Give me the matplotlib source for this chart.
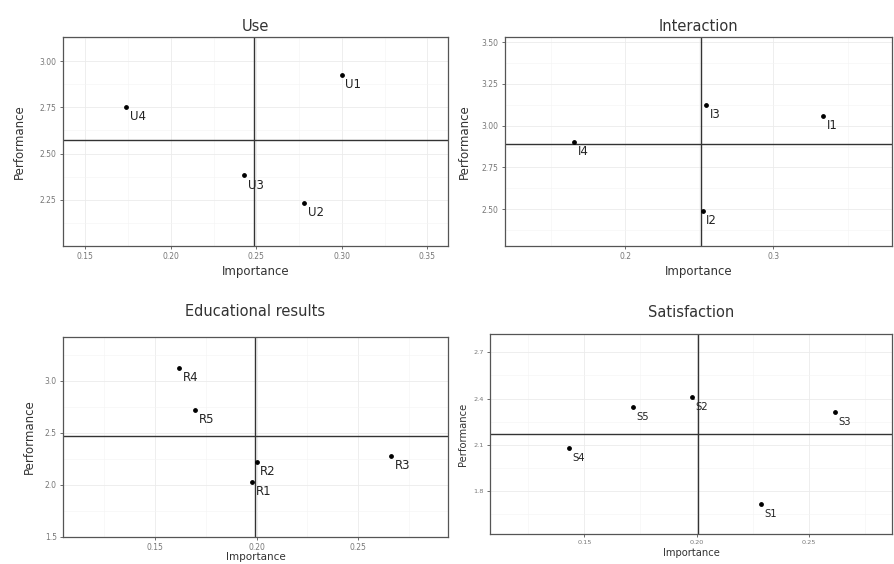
import matplotlib
matplotlib.use("Agg")
import matplotlib.pyplot as plt
import numpy as np

# ---- data ----
use_labels = ["U1", "U4", "U3", "U2"]
use_importance = [0.300, 0.174, 0.243, 0.278]
use_performance = [2.924, 2.752, 2.382, 2.232]

int_labels = ["I3", "I1", "I4", "I2"]
int_importance = [0.2545, 0.3336, 0.1655, 0.2522]
int_performance = [3.122, 3.059, 2.902, 2.488]

edu_labels = ["R4", "R5", "R2", "R1", "R3"]
edu_importance = [0.162, 0.170, 0.200, 0.198, 0.266]
edu_performance = [3.12, 2.72, 2.22, 2.03, 2.28]

sat_labels = ["S4", "S5", "S2", "S1", "S3"]
sat_importance = [0.143, 0.1716, 0.198, 0.2286, 0.2615]
sat_performance = [2.078, 2.346, 2.407, 1.713, 2.313]

W, H = 895, 564
fig = plt.figure(figsize=(W / 100, H / 100), dpi=100)
fig.patch.set_facecolor("white")


def box(l, r, t, b):
    return [l / W, 1 - b / H, (r - l) / W, (b - t) / H]


panels = [
    dict(title="Use", lab=use_labels, x=use_importance, y=use_performance,
         rect=box(63, 448, 37, 246), xlim=(0.137, 0.362), ylim=(2.00, 3.13),
         xt=[0.15, 0.20, 0.25, 0.30, 0.35], xf="%.2f",
         yt=[2.25, 2.50, 2.75, 3.00], yf="%.2f", fs=1.0, tfs=10.5,
         tpad=4, ylpad=10, xlpad=3, xlfs=8.5),
    dict(title="Interaction", lab=int_labels, x=int_importance, y=int_performance,
         rect=box(505, 892, 37, 246), xlim=(0.119, 0.380), ylim=(2.28, 3.53),
         xt=[0.2, 0.3], xf="%.1f",
         yt=[2.50, 2.75, 3.00, 3.25, 3.50], yf="%.2f", fs=1.0, tfs=10.5,
         tpad=4, ylpad=8, xlpad=3, xlfs=8.5),
    dict(title="Educational results", lab=edu_labels, x=edu_importance, y=edu_performance,
         rect=box(63, 448, 337, 537), xlim=(0.105, 0.294), ylim=(1.5, 3.42),
         xt=[0.15, 0.20, 0.25], xf="%.2f",
         yt=[1.5, 2.0, 2.5, 3.0], yf="%.1f", fs=1.0, tfs=10.5,
         tpad=15, ylpad=6, xlpad=0, xlfs=7.5),
    dict(title="Satisfaction", lab=sat_labels, x=sat_importance, y=sat_performance,
         rect=box(490, 892, 334, 534), xlim=(0.108, 0.287), ylim=(1.518, 2.82),
         xt=[0.15, 0.20, 0.25], xf="%.2f",
         yt=[1.8, 2.1, 2.4, 2.7], yf="%.1f", fs=0.85, tfs=10.5,
         tpad=12, ylpad=4, xlpad=2, xlfs=7.2),
]

for p in panels:
    ax = fig.add_axes(p["rect"])
    s = p["fs"]
    xt = p["xt"]; yt = p["yt"]
    ax.set_xticks(xt)
    ax.set_xticklabels([p["xf"] % v for v in xt])
    ax.set_yticks(yt)
    ax.set_yticklabels([p["yf"] % v for v in yt])
    dx = xt[1] - xt[0]; dy = yt[1] - yt[0]
    ax.set_xticks(np.arange(xt[0] - dx / 2, p["xlim"][1], dx), minor=True)
    ax.set_yticks(np.arange(yt[0] - dy / 2, p["ylim"][1], dy), minor=True)
    ax.set_xlim(*p["xlim"])
    ax.set_ylim(*p["ylim"])
    ax.grid(True, which="major", color="#EBEBEB", lw=0.6)
    ax.grid(True, which="minor", color="#F4F4F4", lw=0.4)
    ax.tick_params(which="minor", length=0)
    ax.tick_params(which="major", length=2.5, width=0.6, color="#555555",
                   labelsize=5.5 * s, labelcolor="#777777", pad=2)
    ax.set_axisbelow(True)
    for sp in ax.spines.values():
        sp.set_color("#555555")
        sp.set_linewidth(0.9)

    ax.axvline(np.mean(p["x"]), color="#333333", lw=1.0)
    ax.axhline(np.mean(p["y"]), color="#333333", lw=1.0)
    ax.scatter(p["x"], p["y"], s=6, color="black", zorder=3)
    for lab, xv, yv in zip(p["lab"], p["x"], p["y"]):
        ax.annotate(lab, (xv, yv), xytext=(2.5, -7), textcoords="offset points",
                    ha="left", va="center", fontsize=8.5 * s, color="#222222",
                    arrowprops=dict(arrowstyle="-", lw=0.6, color="black",
                                    shrinkA=0, shrinkB=3))

    ax.set_title(p["title"], fontsize=p["tfs"], color="#333333", pad=p["tpad"])
    ax.set_xlabel("Importance", fontsize=p["xlfs"], color="#333333", labelpad=p["xlpad"])
    ax.set_ylabel("Performance", fontsize=8.5 * s, color="#333333", labelpad=p["ylpad"])

fig.savefig("out.png", dpi=100)
